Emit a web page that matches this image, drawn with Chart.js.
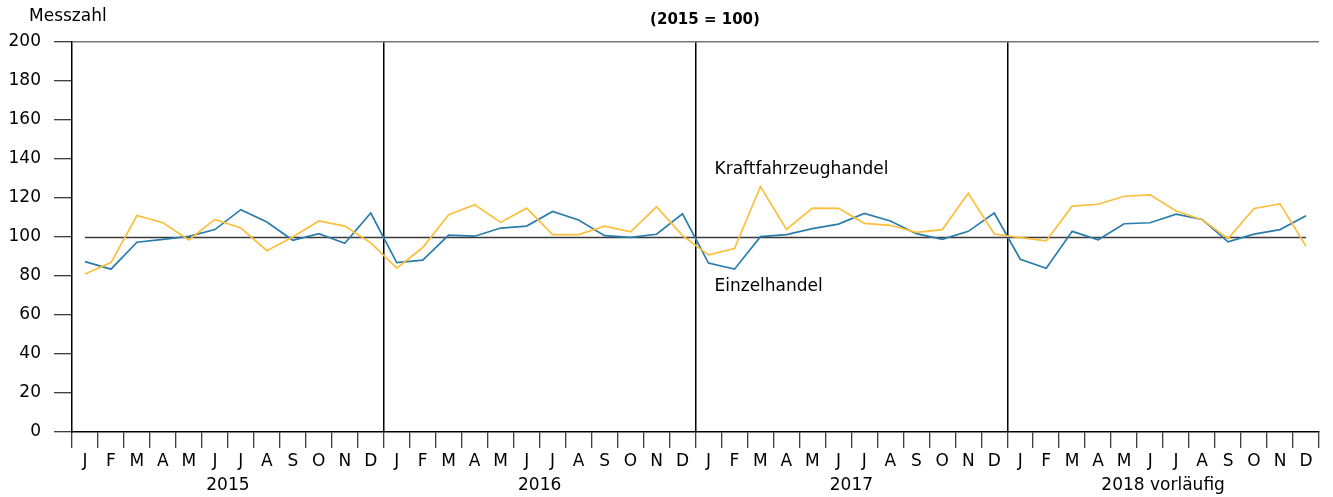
<!DOCTYPE html>
<html lang="de">
<head>
<meta charset="utf-8">
<script src="https://cdn.jsdelivr.net/npm/chart.js@4"></script>
<style>
  html, body { margin: 0; padding: 0; background: #fff; }
  #wrap { width: 1333px; height: 497px; }
</style>
</head>
<body>
<div id="wrap"><canvas id="grafikUmsatz" width="1333" height="497"></canvas></div>
<script>
  const monate = ['J', 'F', 'M', 'A', 'M', 'J', 'J', 'A', 'S', 'O', 'N', 'D'];
  const jahre = ['2015', '2016', '2017', '2018 vorläufig'];
  const yTicks = [0, 20, 40, 60, 80, 100, 120, 140, 160, 180, 200];
  const basisWert = 100;

  // Einzelhandel, Messzahl 2015 = 100
  const einzelhandel = [
    87.4, 83.5, 97.3, 98.8, 100.3, 103.8, 114.0, 107.7, 98.3, 101.7, 96.8, 112.3,
    86.9, 88.1, 101.0, 100.4, 104.6, 105.6, 113.1, 108.7, 100.7, 99.8, 101.4, 111.9,
    86.6, 83.5, 100.2, 101.2, 104.3, 106.6, 112.1, 108.2, 101.7, 98.8, 102.9, 112.3,
    88.6, 84.0, 102.9, 98.6, 106.8, 107.3, 111.7, 109.0, 97.5, 101.5, 103.8, 110.9
  ];

  // Kraftfahrzeughandel
  const kfzHandel = [
    81.0, 86.9, 111.0, 107.3, 98.5, 109.0, 104.6, 93.0, 100.0, 108.2, 105.6, 97.0,
    84.0, 94.6, 111.4, 116.5, 107.5, 114.8, 101.2, 101.2, 105.6, 102.6, 115.5, 100.7,
    90.8, 94.1, 125.9, 103.9, 114.8, 114.7, 107.0, 106.0, 102.4, 103.8, 122.4, 101.5,
    99.7, 98.0, 115.8, 116.8, 120.9, 121.6, 113.3, 108.9, 99.2, 114.6, 117.0, 95.3
  ];

  const labels = [];
  jahre.forEach(() => monate.forEach(m => labels.push(m)));

  const schrift = '"DejaVu Sans", "Liberation Sans", Arial, sans-serif';

  const extras = {
    id: 'extras',
    beforeDatasetsDraw(chart) {
      const { ctx, scales } = chart;
      const x = scales.x, y = scales.y;
      ctx.save();
      // Basislinie 100
      ctx.strokeStyle = '#3a3a3a';
      ctx.lineWidth = 1.5;
      const yb = Math.round(y.getPixelForValue(basisWert)) + 0.5;
      ctx.beginPath();
      ctx.moveTo(x.getPixelForValue(0), yb);
      ctx.lineTo(x.getPixelForValue(labels.length - 1), yb);
      ctx.stroke();
      ctx.restore();
    },
    afterDraw(chart) {
      const { ctx, scales } = chart;
      const x = scales.x, y = scales.y;
      ctx.save();
      ctx.fillStyle = '#000';
      ctx.textBaseline = 'middle';
      ctx.font = '17px ' + schrift;
      ctx.textAlign = 'left';
      ctx.fillText('Messzahl', 29, 17);
      ctx.font = 'bold 15px ' + schrift;
      ctx.textAlign = 'center';
      ctx.fillText('(2015 = 100)', 705, 20);

      // Jahresbeschriftung
      ctx.font = '17px ' + schrift;
      jahre.forEach((j, i) => {
        const x0 = x.getPixelForValue(i * 12);
        const x1 = x.getPixelForValue(i * 12 + 11);
        ctx.fillText(j, (x0 + x1) / 2, 486);
      });

      // Reihenbeschriftung
      ctx.textAlign = 'left';
      const xl = x.getPixelForValue(24) + 6;
      ctx.fillText('Kraftfahrzeughandel', xl, y.getPixelForValue(134.8));
      ctx.fillText('Einzelhandel', xl, y.getPixelForValue(74.8));
      ctx.restore();
    }
  };

  new Chart(document.getElementById('grafikUmsatz'), {
    type: 'line',
    data: {
      labels: labels,
      datasets: [{
        label: 'Kraftfahrzeughandel',
        data: kfzHandel,
        borderColor: '#fbbf3c',
        borderWidth: 1.7,
        pointRadius: 0,
        tension: 0,
        fill: false
      }, {
        label: 'Einzelhandel',
        data: einzelhandel,
        borderColor: '#2a7dab',
        borderWidth: 1.7,
        pointRadius: 0,
        tension: 0,
        fill: false
      }]
    },
    options: {
      responsive: false,
      animation: false,
      layout: { padding: { top: 42, right: 14, left: 0, bottom: 0 } },
      plugins: {
        legend: { display: false },
        tooltip: { enabled: false }
      },
      scales: {
        x: {
          offset: true,
          afterFit(scale) { scale.height = 65; },
          grid: {
            offset: true,
            drawOnChartArea: true,
            tickLength: 16,
            lineWidth: 1.5,
            color: ctx => {
              const i = ctx.index;
              if (i === labels.length) return '#777';
              if (i > 0 && i % 12 === 0) return '#000';
              return 'rgba(0,0,0,0)';
            },
            tickColor: '#000',
            tickWidth: 1
          },
          border: { display: true, color: '#000', width: 1.5 },
          ticks: {
            autoSkip: false,
            maxRotation: 0,
            padding: 3,
            color: '#000',
            font: { size: 17, family: schrift }
          }
        },
        y: {
          min: 0,
          max: 200,
          afterFit(scale) { scale.width = 72; },
          afterBuildTicks(scale) { scale.ticks = yTicks.map(v => ({ value: v })); },
          grid: {
            drawOnChartArea: true,
            tickLength: 18,
            lineWidth: 1.5,
            color: ctx => (ctx.tick && ctx.tick.value === 200) ? '#777' : 'rgba(0,0,0,0)',
            tickColor: '#000',
            tickWidth: 1
          },
          border: { display: true, color: '#000', width: 1.5 },
          ticks: {
            padding: 13,
            color: '#000',
            font: { size: 17, family: schrift }
          }
        }
      }
    },
    plugins: [extras]
  });
</script>
</body>
</html>
